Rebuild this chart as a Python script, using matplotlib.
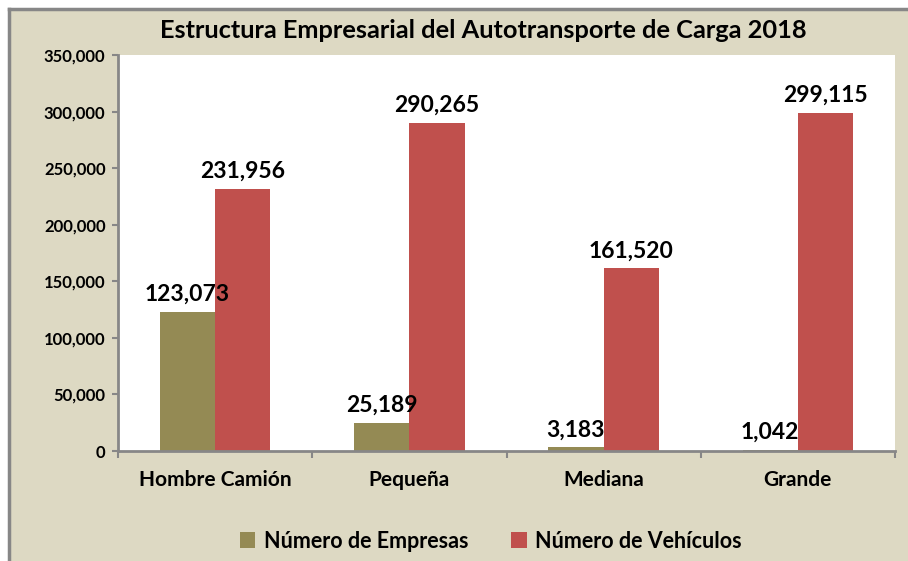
import matplotlib
matplotlib.use('Agg')
import matplotlib.pyplot as plt
from matplotlib.patches import Rectangle
from matplotlib.lines import Line2D
from matplotlib.ticker import FuncFormatter, MultipleLocator
import numpy as np

# Chart data
categories = ['Hombre Camión', 'Pequeña', 'Mediana', 'Grande']
empresas = [123073, 25189, 3183, 1042]
vehiculos = [231956, 290265, 161520, 299115]
series_names = ['Número de Empresas', 'Número de Vehículos']

OLIVE = '#948A54'
RED = '#C0504D'
BEIGE = '#DDD9C3'
GRAY = '#878787'

plt.rcParams['font.family'] = ['Lato', 'DejaVu Sans']
plt.rcParams['font.weight'] = 'bold'

fig = plt.figure(figsize=(9.08, 5.61), dpi=100)
fig.patch.set_facecolor('white')

# Beige chart background with gray border on left/top
fig.patches.append(Rectangle((9 / 908, 0), 1, 1 - 9 / 561, transform=fig.transFigure,
                             facecolor=BEIGE, edgecolor='none', zorder=-5))
fig.lines.append(Line2D([9 / 908, 9 / 908], [0, 1 - 9 / 561], transform=fig.transFigure,
                        color=GRAY, lw=2.5, zorder=-4))
fig.lines.append(Line2D([9 / 908, 1], [1 - 9 / 561, 1 - 9 / 561], transform=fig.transFigure,
                        color=GRAY, lw=2.5, zorder=-4))

ax = fig.add_axes([118 / 908, 1 - 451 / 561, (895 - 118) / 908, (451 - 55) / 561])
ax.set_zorder(1)
ax.set_facecolor('white')

x = np.arange(len(categories))
w = 0.285
b1 = ax.bar(x - w / 2, empresas, w, color=OLIVE, label=series_names[0], zorder=2)
b2 = ax.bar(x + w / 2, vehiculos, w, color=RED, label=series_names[1], zorder=2)

for bars, vals in [(b1, empresas), (b2, vehiculos)]:
    for bar, v in zip(bars, vals):
        ax.text(bar.get_x() + bar.get_width() / 2, v + 6000, f'{v:,}',
                ha='center', va='bottom', fontsize=16.5, fontweight='bold', color='black')

ax.set_xlim(-0.5, len(categories) - 0.5)
ax.set_ylim(0, 350000)
ax.yaxis.set_major_locator(MultipleLocator(50000))
ax.yaxis.set_major_formatter(FuncFormatter(lambda v, _: f'{int(v):,}'))

ax.set_xticks(x)
ax.set_xticklabels(categories)
ax.set_xticks(np.arange(-0.5, len(categories), 1), minor=True)
ax.tick_params(axis='x', which='major', length=0, pad=14, labelsize=15)
ax.tick_params(axis='x', which='minor', length=5, width=1.5, color=GRAY, direction='out')
ax.tick_params(axis='y', length=4, width=1.5, color=GRAY, pad=5, labelsize=12)
for lbl in ax.get_xticklabels() + ax.get_yticklabels():
    lbl.set_fontweight('bold')

for s in ['top', 'right']:
    ax.spines[s].set_visible(False)
for s in ['left', 'bottom']:
    ax.spines[s].set_color(GRAY)
    ax.spines[s].set_linewidth(2)

fig.text(483 / 908, 1 - 31 / 561, 'Estructura Empresarial del Autotransporte de Carga 2018',
         ha='center', va='center', fontsize=18.3, fontweight='bold')

fig.legend(handles=[b1, b2], labels=series_names, loc='center', ncol=2,
           bbox_to_anchor=(491 / 908, 1 - 541 / 561), frameon=False,
           prop={'size': 15.5, 'weight': 'bold'}, handlelength=0.7, handleheight=0.7,
           columnspacing=2.0, handletextpad=0.4)

fig.savefig('out.png', dpi=100, facecolor=fig.get_facecolor())
